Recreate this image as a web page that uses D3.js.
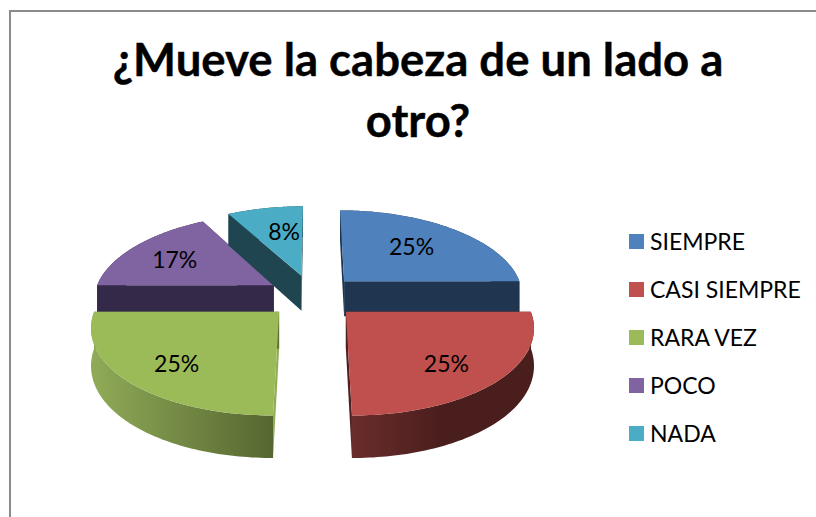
<!DOCTYPE html>
<html><head><meta charset="utf-8">
<script src="https://cdn.jsdelivr.net/npm/d3@7"></script>
<style>html,body{margin:0;padding:0;background:#fff}svg{display:block}text{font-family:Lato,"Open Sans",sans-serif;fill:#000}</style>
</head><body><svg id="c" width="816" height="517"></svg>
<script>
const titleLines = ["¿Mueve la cabeza de un lado a", "otro?"];
const categories = ["SIEMPRE", "CASI SIEMPRE", "RARA VEZ", "POCO", "NADA"];
const values = [25, 25, 25, 17, 8];
const colors = ["#4f81bd", "#c0504d", "#9bbb59", "#8064a2", "#4bacc6"];
const startWall = ["#1f3550", "#4d1f1e", "#8fae52", "#35294a", "#1f4650"];
const endWall = ["#1f3550", "#4d1f1e", "#5e7034", "#35294a", "#1f4650"];
const arcWall = [["#1f3550", "#1f3550"], ["#6a2d2b", "#4a1e1d"], ["#90ab58", "#566630"], ["#35294a", "#35294a"], ["#1f4650", "#1f4650"]];
const paintOrder = [0, 3, 4, 2, 1];
const labelNudge = [[-5, 0], [8, 9], [-10, 9], [-8, 0], [7, 1]];

const width = 816, height = 517;
const svg = d3.select("#c");
const defs = svg.append("defs");

const cx = 312.5, cy = 296, sxScale = 180, syScale = 84.5, perspX = -0.15, perspY = -0.14;
const explode = 0.255, depth = 36, depthPersp = -0.13, labelR = 0.64;
const project = (u, v, z = 0) => [
  cx + sxScale * u / (1 + perspX * v),
  cy + syScale * v / (1 + perspY * v) + z * depth / (1 + depthPersp * v)
];
const polar = (a, r, off) => [off[0] + r * Math.sin(a), off[1] - r * Math.cos(a)];

const arcs = d3.pie().sort(null)(values);
const poly = d3.line();
const sampleArc = (d, off) => {
  const n = 80;
  return d3.range(n + 1).map(i => polar(d.startAngle + (d.endAngle - d.startAngle) * i / n, 1, off));
};
const wallPath = (pts) => {
  const top = pts.map(p => project(p[0], p[1], 0));
  const bot = pts.map(p => project(p[0], p[1], 1)).reverse();
  return poly(top.concat(bot)) + "Z";
};

svg.append("rect").attr("x", 10).attr("y", 11).attr("width", width + 20).attr("height", height + 20)
  .attr("fill", "#fff").attr("stroke", "#8a8a8a").attr("stroke-width", 2);

titleLines.forEach((t, i) => svg.append("text").attr("x", 418).attr("y", 76 + i * 61)
  .attr("text-anchor", "middle").attr("font-size", 45.5).attr("font-weight", 700)
  .attr("stroke", "#000").attr("stroke-width", 0.4).text(t));

const gMarks = svg.append("g");
paintOrder.forEach(i => {
  const d = arcs[i];
  const mid = (d.startAngle + d.endAngle) / 2;
  const off = [explode * Math.sin(mid), -explode * Math.cos(mid)];
  const arcPts = sampleArc(d, off);
  const g = gMarks.append("g");

  const gradId = "wall" + i;
  const xs = arcPts.map(p => project(p[0], p[1])[0]);
  const grad = defs.append("linearGradient").attr("id", gradId).attr("gradientUnits", "userSpaceOnUse")
    .attr("x1", d3.min(xs)).attr("x2", d3.max(xs)).attr("y1", 0).attr("y2", 0);
  const stops = i === 1 ? [arcWall[i][0], arcWall[i][1], arcWall[i][1]] : arcWall[i];
  stops.forEach((c, k) => grad.append("stop").attr("offset", k / (stops.length - 1)).attr("stop-color", c));

  g.append("path").attr("d", wallPath([off, arcPts[0]])).attr("fill", startWall[i]);
  g.append("path").attr("d", wallPath([off, arcPts[arcPts.length - 1]])).attr("fill", endWall[i]);
  g.append("path").attr("d", wallPath(arcPts)).attr("fill", `url(#${gradId})`);
  g.append("path").attr("d", poly([off].concat(arcPts).map(p => project(p[0], p[1]))) + "Z").attr("fill", colors[i]);
});

arcs.forEach((d, i) => {
  const mid = (d.startAngle + d.endAngle) / 2;
  const off = [explode * Math.sin(mid), -explode * Math.cos(mid)];
  const p = polar(mid, labelR, off);
  const [x, y] = project(p[0], p[1]);
  svg.append("text").attr("x", x + labelNudge[i][0]).attr("y", y + 8 + labelNudge[i][1]).attr("text-anchor", "middle")
    .attr("font-size", 23).text(values[i] + "%");
});

const legendY = d3.scalePoint().domain(categories).range([241.5, 433.5]);
categories.forEach((c, i) => {
  svg.append("rect").attr("x", 629).attr("y", legendY(c) - 7.5).attr("width", 15).attr("height", 15).attr("fill", colors[i]);
  svg.append("text").attr("x", 650).attr("y", legendY(c) + 8).attr("font-size", 23).text(c);
});
</script></body></html>
